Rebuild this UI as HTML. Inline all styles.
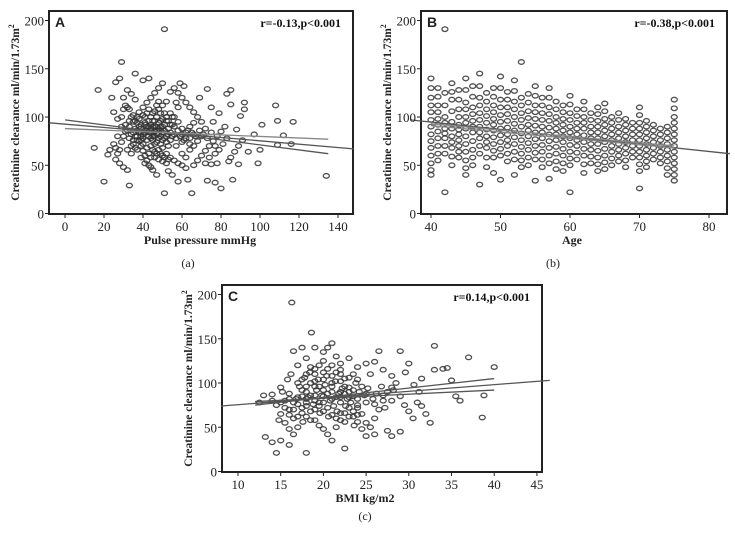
<!DOCTYPE html>
<html><head><meta charset="utf-8"><style>
html,body{margin:0;padding:0;background:#fff;}
svg{display:block;font-family:"Liberation Serif",serif;}
</style></head><body>
<svg id="fig" width="735" height="553" viewBox="0 0 735 553" xmlns="http://www.w3.org/2000/svg"></svg>
<script>
const ptsA=[[51,191],[29,157],[17,128],[15,68],[20,33],[33,29],[51,21],[65,21],[80,26],[134,39],[117,95],[108,112],[109,96],[112,81],[109,71],[116,72],[99,52],[100,66],[101,92],[97,82],[92,115],[92,108],[90,101],[85,128],[85,113],[88,87],[89,51],[86,35],[77,32],[73,34],[84,54],[78,52],[75,51],
[30,120],[32,110],[34,100],[35,95],[36,88],[37,80],[38,75],[39,70],[40,65],[41,60],[42,55],[43,50],[44,48],[45,90],[46,85],[47,82],[48,78],[49,72],[50,68],[52,62],[54,58],[56,55],[58,52],[60,50],[38,105],[40,110],[42,115],[44,120],[46,125],[48,130],[50,135],[43,140],[40,138],[36,145],[28,140],[26,136],[24,120],[25,105],[27,98],[29,90],[31,85],[33,78],[35,72],[37,66],[39,58],[41,52],[45,45],[47,40],[53,44],[55,40],[58,33],[63,35],[62,47],[66,50],[68,55],[70,60],[72,65],[74,70],[76,75],[78,80],[80,85],[82,90],[70,95],[68,100],[66,105],[64,110],[62,115],[60,120],[58,125],[56,130],[54,126],[59,135],[61,132],[73,129],[69,120],[75,110],[79,104],[83,124],[76,95],[72,88],[66,82],[64,78],[60,74],[57,70],[55,80],[53,88],[51,92],[49,96],[47,100],[45,104],[43,96],[41,92],[39,88],[37,94],[35,102],[33,108],[31,112],[29,100],[27,80],[25,72],[23,66],[22,61],[26,56],[28,52],[30,48],[32,45],[34,62],[36,68],[44,78],[46,72],[48,66],[50,60],[52,74],[54,84],[56,90],[58,95],[60,88],[62,84],[64,90],[66,70],[68,75],[70,80],[72,52],[74,58],[77,62],[79,66],[81,72],[83,78],[85,58],[87,64],[89,70],[91,76],[94,64],[40,82],[42,86],[44,92],[46,96],[48,88],[50,84],[52,80],[42,76],[44,70],[46,64],[38,98],[40,102],[48,108],[50,112],[52,116],[54,104],[56,100],[36,118],[34,124],[32,128],[30,108],[41,94],[43,80],[45,84],[47,90],[49,86],[51,78],[53,70],[39,80],[37,76],[35,84],[33,90],[60,62],[62,58],[64,66],[66,94],[58,110],[57,115],
[38,84],[39,92],[40,78],[41,86],[42,90],[43,84],[44,88],[45,76],[46,80],[47,74],[48,94],[49,80],[50,90],[51,86],[52,96],[53,82],[54,76],[55,92],[56,82],[57,78],[58,86],[59,80],[60,82],[61,76],[62,78],[63,86],[64,72],[65,84],[67,80],[69,86],[71,82],[73,78],[75,84],[77,70],[36,96],[37,86],[38,90],[39,76],[40,72],[41,100],[42,104],[43,108],[44,100],[45,96],[46,106],[47,112],[48,116],[49,104],[50,98],[51,104],[52,100],[53,96],[54,92],[55,100],[36,80],[37,100],[42,68],[43,62],[44,58],[45,66],[46,58],[47,62],[48,56],[49,62],[50,54],[51,58],[52,52],[53,56],[34,82],[35,76],[33,96],[32,86],[31,92],[30,80],[29,74],[28,66],[27,62],[26,68],[34,70],[32,66],[44,84],[46,90],[48,82],[50,76],[47,86],[45,80],[43,90],[41,84],[39,84],[49,90]];
const agesB=[40,41,42,43,44,45,46,47,48,49,50,51,52,53,54,55,56,57,58,59,60,61,62,63,64,65,66,67,68,69,70,71,72,73,74,75];
const valsB=[[140,130,120,112,105,97,90,82,75,68,60,52,45,40],[130,121,112,105,98,92,85,78,70,62,55],[191,125,112,100,94,88,83,78,70,62,22],[135,126,118,106,95,88,80,74,68,59,50],[128,118,108,100,92,87,82,76,70,64,58],[140,128,115,108,100,94,88,80,72,64,55,47,40],[132,121,110,103,96,90,84,75,66,58,50],[145,132,120,112,104,97,90,84,78,70,62,30],[125,116,108,101,94,87,80,74,68,58,48],[130,121,112,105,98,92,86,79,72,65,58,42],[142,130,118,110,102,95,88,81,74,67,60,35],[126,118,110,103,96,89,82,76,70,62,54],[138,127,116,108,100,93,86,79,72,64,56,40],[157,120,112,104,97,90,83,76,69,62,55,48],[124,115,106,99,92,86,80,73,66,58,50],[132,122,112,105,98,91,84,77,70,63,56,34],[120,112,104,97,90,84,78,71,64,56,48],[130,120,110,103,96,89,82,75,68,60,52,36],[116,108,100,94,88,82,76,69,62,54,46],[112,105,98,92,86,80,74,67,60,52,44],[122,113,104,97,90,84,78,71,64,57,50,22],[108,101,94,88,82,76,70,63,56],[116,108,100,94,88,81,74,67,60,51,42],[104,97,90,84,78,72,66,59,52],[110,103,96,90,84,78,72,65,58,51,44],[114,106,98,92,86,80,74,67,60,53,46],[100,94,88,82,76,70,64,57,50],[104,97,90,84,78,72,66,60,54],[98,92,86,80,74,68,62,55,48],[94,88,82,76,70,64,58],[110,102,94,88,82,76,70,64,58,51,44,26],[96,90,84,78,72,66,60,54,48],[92,86,80,74,68,62,56],[88,82,76,70,64,58,52],[90,84,78,72,66,60,54,47,40],[118,109,100,94,88,82,76,70,64,58,52,46,40,34]];
const ptsC=[[16.3,191],[18.6,157],[33,142],[37,129],[40,118],[38.6,61],[38.8,86],[36,80],[35.5,85],[35,103],[34.5,117],[34,116],[33,115],[32.5,55],[32,65],[31.5,105],[30,122],[29,136],[28,108],[26.5,136],[27,115],[28,40],[29,45],[27.5,46],[14.5,21],[18,21],[22.5,26],[13.2,39],[14,33],[15,35],[16,30],
[15,95],[15.5,80],[16,70],[16.5,60],[17,50],[17.5,85],[18,90],[18.5,100],[19,110],[19.5,120],[20,125],[20.5,140],[21,145],[21.5,130],[22,115],[22.5,105],[23,95],[23.5,85],[24,75],[24.5,65],[25,55],[25.5,50],[26,60],[26.5,70],[27,80],[27.5,90],[28,95],[28.5,100],[29,85],[29.5,75],[30,68],[30.5,60],[31,78],[31.5,74],[17,120],[16.5,136],[17.5,140],[18,128],[19,140],[20,135],[21,120],[22,110],[23,128],[24,118],[25,122],[26,124],[14.5,75],[15,65],[15.5,55],[16,48],[16.5,42],[17,62],[17.5,72],[18,78],[18.5,68],[19,58],[19.5,52],[20,48],[20.5,42],[21,35],[21.5,50],[22,58],[22.5,66],[23,72],[23.5,62],[24,56],[24.5,48],[25,40],[26,42],[13,86],[14,87],[12.5,78],[16,88],[16.8,82],[17.2,96],[18.2,84],[18.8,76],[19.2,92],[19.8,86],[20.2,98],[20.8,80],[21.2,74],[21.8,88],[22.2,94],[22.8,82],[23.2,78],[23.8,100],[24.2,90],[24.8,86],[25.2,94],[25.8,82],[26.2,88],[26.8,96],[27.2,72],[19.4,104],[20.4,108],[21.4,102],[18.4,112],[17.8,106],[16.2,110],[15.8,104],[15.2,90],[14.8,58],[17.6,56],[19.6,66],[20.6,62],[21.6,68],[22.6,74],[23.6,52],[20,85],[21,82],[19,80],[18,96],[22,90],[24,104],[25.5,110],[28.2,92],[29.6,112],[30.6,98],[31.2,90],
[16.5,78],[17,84],[17.5,92],[18,74],[18.5,86],[19,96],[19.5,78],[20,92],[20.5,88],[21,96],[21.5,84],[22,78],[22.5,88],[23,84],[23.5,92],[24,82],[24.5,96],[25,88],[17,100],[17.5,104],[18,110],[18.5,118],[19,102],[19.5,96],[20,112],[20.5,116],[21,108],[21.5,112],[22,102],[22.5,96],[23,106],[23.5,110],[16,64],[16.5,70],[17,76],[17.5,66],[18,62],[18.5,58],[19,70],[19.5,74],[20,68],[20.5,72],[21,64],[21.5,60],[22,66],[22.5,56],[23,62],[23.5,68],[24,64],[15,78],[15.5,72],[16,82],[14,80],[20,78],[21,90],[19,86],[22,84],[18,82],[23,90],[24,72],[25,78],[26,76],[27,86],[28,80],[21,100],[20,104],[19,116],[22,122]];

const NS="http://www.w3.org/2000/svg";
const svg=document.getElementById('fig');
function mk(tag,attrs,parent,text){const e=document.createElementNS(NS,tag);for(const k in attrs)e.setAttribute(k,attrs[k]);if(text!==undefined)e.textContent=text;(parent||svg).appendChild(e);return e;}

function panel(cfg){
  const g=mk('g',{});
  
  
  const sx=v=>cfg.x0+(v-cfg.xmin)*(cfg.xpx);
  const sy=v=>cfg.y0-v*cfg.ypx;
  const box=mk('rect',{x:cfg.L,y:cfg.T,width:cfg.R-cfg.L,height:cfg.B-cfg.T,fill:'#fff',stroke:'#222','stroke-width':2},g);
  
  const pg=mk('g',{},g);
  
  cfg.pts.forEach(p=>{
    const c=mk('ellipse',{cx:sx(p[0]),cy:sy(p[1]),rx:3,ry:2.3,fill:'none',stroke:'#333','stroke-width':1.3,'stroke-opacity':0.85},pg);
    
  });
  cfg.lines.forEach(l=>{
    const ln=mk('line',{x1:sx(l[0]),y1:sy(l[1]),x2:sx(l[2]),y2:sy(l[3]),stroke:l[4],'stroke-width':1.3},g);
    
  });
  [0,50,100,150,200].forEach(v=>{
    mk('line',{x1:cfg.L-4,x2:cfg.L,y1:sy(v),y2:sy(v),stroke:'#222'},g);
    const t=mk('text',{x:cfg.L-5,y:sy(v)+5,'text-anchor':'end','font-size':13,fill:'#222'},g,String(v));
    
  });
  cfg.xt.forEach(v=>{
    mk('line',{x1:sx(v),x2:sx(v),y1:cfg.B,y2:cfg.B+4,stroke:'#222'},g);
    const t=mk('text',{x:sx(v),y:cfg.B+17,'text-anchor':'middle','font-size':13,fill:'#222'},g,String(v));
    
  });
  const xt=mk('text',{x:cfg.xtx,y:cfg.B+30,'text-anchor':'middle','font-size':12,'font-weight':'bold',fill:'#222'},g,cfg.xtitle);
  
  const ycx=cfg.L-30, ycy=(cfg.T+cfg.B)/2;
  const yt=mk('text',{x:ycx,y:ycy,'text-anchor':'middle','font-size':11.5,'font-weight':'bold',fill:'#222',transform:`rotate(-90 ${ycx} ${ycy})`},g);
  
  yt.textContent='Creatinine clearance ml/min/1.73m';
  mk('tspan',{dy:-5,'font-size':8},yt,'2');
  const lab=mk('text',{x:cfg.L+6,y:cfg.T+16,'font-size':14,'font-weight':'bold','font-family':'Liberation Sans, sans-serif',fill:'#222'},g,cfg.letter);
  
  const st=mk('text',{x:cfg.R-12,y:cfg.T+16,'text-anchor':'end','font-size':12,'font-weight':'bold',fill:'#111'},g,cfg.stat);
  
  const cap=mk('text',{x:cfg.capx,y:cfg.capy,'text-anchor':'middle','font-size':12,fill:'#222'},g,cfg.cap);
  
}

panel({name:'panel-a',L:49,R:353,T:11,B:214,x0:65,xmin:0,xpx:1.95,y0:213.5,ypx:0.965,pts:ptsA,
  lines:[[-8,94,148,67,'#555','regression-line'],[0,97,135,62,'#555','ci-upper'],[0,88,135,77,'#888','ci-lower']],
  xt:[0,20,40,60,80,100,120,140],xtitle:'Pulse pressure mmHg',xtx:200,letter:'A',stat:'r=-0.13,p<0.001',cap:'(a)',capx:188,capy:267});

const ptsB=[];agesB.forEach((a,i)=>valsB[i].forEach(v=>ptsB.push([a,v])));
panel({name:'panel-b',L:421,R:727,T:11,B:214,x0:431,xmin:40,xpx:6.95,y0:213.5,ypx:0.965,pts:ptsB,
  lines:[[37,97,83,62,'#555','regression-line'],[40,93,75,70,'#888','ci-upper'],[40,91,75,68,'#888','ci-lower']],
  xt:[40,50,60,70,80],xtitle:'Age',xtx:572,letter:'B',stat:'r=-0.38,p<0.001',cap:'(b)',capx:553,capy:267});

panel({name:'panel-c',L:222,R:542,T:285,B:472,x0:238,xmin:10,xpx:8.54,y0:471.5,ypx:0.885,pts:ptsC,
  lines:[[8,74,46.5,103,'#555','regression-line'],[12,75,40,105,'#555','ci-upper'],[12,79,40,92,'#555','ci-lower']],
  xt:[10,15,20,25,30,35,40,45],xtitle:'BMI kg/m2',xtx:365,letter:'C',stat:'r=0.14,p<0.001',cap:'(c)',capx:365,capy:520});
</script>
</body></html>
